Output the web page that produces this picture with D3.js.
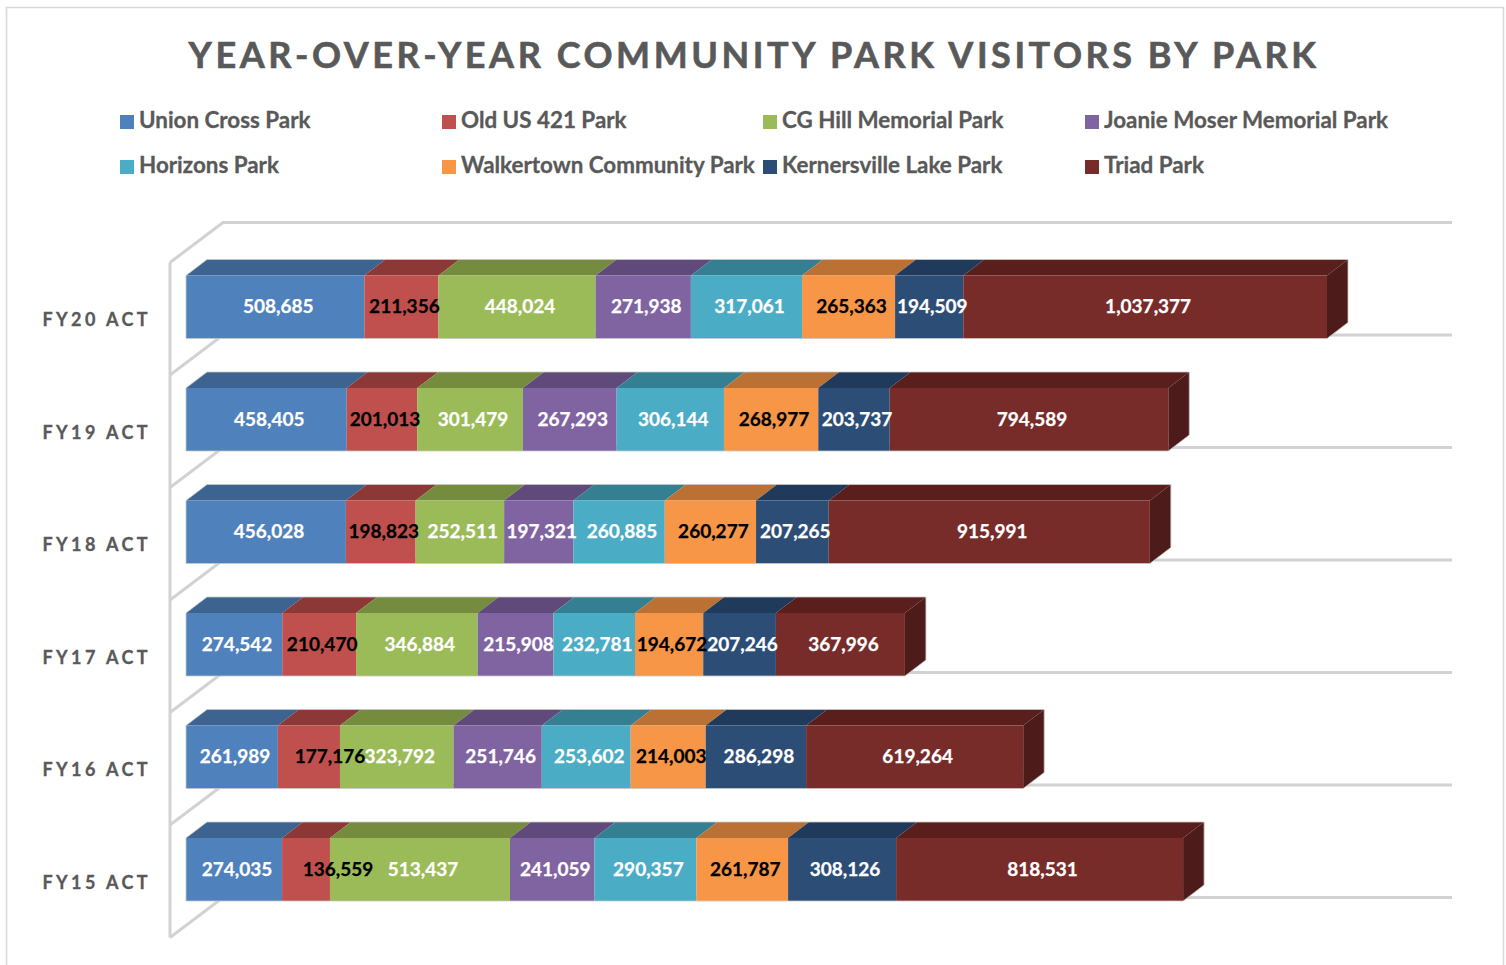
<!DOCTYPE html>
<html><head><meta charset="utf-8">
<script src="https://cdn.jsdelivr.net/npm/d3@7"></script>
<style>html,body{margin:0;padding:0;background:#fff}svg{display:block}text{font-family:Lato,"Open Sans",sans-serif;font-weight:700}</style>
</head><body><svg id="c" width="1506" height="965"></svg>
<script>
const title = "YEAR-OVER-YEAR COMMUNITY PARK VISITORS BY PARK";
const years = ["FY20 ACT","FY19 ACT","FY18 ACT","FY17 ACT","FY16 ACT","FY15 ACT"];
const parks = ["Union Cross Park","Old US 421 Park","CG Hill Memorial Park","Joanie Moser Memorial Park","Horizons Park","Walkertown Community Park","Kernersville Lake Park","Triad Park"];
const unionCross  = [508685,458405,456028,274542,261989,274035];
const oldUS421    = [211356,201013,198823,210470,177176,136559];
const cgHill      = [448024,301479,252511,346884,323792,513437];
const joanieMoser = [271938,267293,197321,215908,251746,241059];
const horizons    = [317061,306144,260885,232781,253602,290357];
const walkertown  = [265363,268977,260277,194672,214003,261787];
const kernersville= [194509,203737,207265,207246,286298,308126];
const triad       = [1037377,794589,915991,367996,619264,818531];
const seriesValues = [unionCross,oldUS421,cgHill,joanieMoser,horizons,walkertown,kernersville,triad];
const frontColors = ["#4f81bd","#c0504d","#9bbb59","#8064a2","#4bacc6","#f79646","#2c4d75","#772c2a"];
const topColors   = ["#3d6390","#8c3836","#758c3f","#5f4a7b","#357f92","#bb7133","#203a5b","#5a1f1d"];
const labelColors = ["#fff","#000","#fff","#fff","#fff","#000","#fff","#fff"];

const svg = d3.select("#c");
const dx = 21, dy = 16, wallDx = 53, wallDy = 40;
const x = d3.scaleLinear().domain([0,3254313]).range([186,1327]);
const y = d3.scaleBand().domain(years).range([250.75,925.75]).paddingInner(.44).paddingOuter(.22);
const gridColor = "#d2d2d2";

// frame
svg.append("path").attr("d","M6.5,965V7.5H1503.5V965").attr("fill","none").attr("stroke","#d9d9d9").attr("stroke-width",1.6);

// title
svg.append("text").attr("x",754).attr("y",68).attr("text-anchor","middle")
  .attr("font-size",36).attr("letter-spacing",3.55).attr("fill","#595959")
  .attr("stroke","#595959").attr("stroke-width",.6).text(title);

// legend
const legendX = d3.scaleOrdinal().domain([0,1,2,3]).range([120,442,763,1085]);
const legend = svg.append("g").selectAll("g").data(parks).join("g")
  .attr("transform",(d,i)=>`translate(${legendX(i%4)},${i<4?115:160})`);
legend.append("rect").attr("width",14).attr("height",14).attr("fill",(d,i)=>frontColors[i]);
legend.append("text").attr("x",19).attr("y",13).attr("font-size",22.4).attr("fill","#595959")
  .attr("stroke","#595959").attr("stroke-width",.3).text(d=>d);

// walls and floors
const grid = svg.append("g").attr("fill","none").attr("stroke",gridColor).attr("stroke-width",3);
const floors = d3.range(years.length+1).map(i=>222.5+i*y.step());
grid.append("path").attr("d",`M170,${floors[0]+wallDy}V${floors[6]+wallDy}`);
floors.forEach(f=>{
  grid.append("path").attr("d",`M170,${f+wallDy}L${170+wallDx},${f}H1452`);
});

// axis labels
const axis = d3.axisLeft(y).tickSize(0).tickPadding(0);
const axisG = svg.append("g").attr("transform","translate(151,13.5)").call(axis);
axisG.select(".domain").remove();
axisG.selectAll("text").attr("font-size",18).attr("letter-spacing",3.4).attr("fill","#595959")
  .attr("stroke","#595959").attr("stroke-width",.3)
  .style("font-family","Lato,sans-serif").style("font-weight",700);

// bars
const nudge = {"FY16 ACT|1":18,"FY15 ACT|1":29};
years.forEach((yr,r)=>{
  const g = svg.append("g");
  const rows = d3.cumsum(seriesValues.map(s=>s[r]));
  const segs = seriesValues.map((s,i)=>({i,v:s[r],a:i?rows[i-1]:0,b:rows[i]}));
  const top = y(yr), h = y.bandwidth();
  g.append("g").selectAll("path").data(segs).join("path")
    .attr("d",d=>`M${x(d.a)},${top}L${x(d.a)+dx},${top-dy}H${x(d.b)+dx}L${x(d.b)},${top}Z`)
    .attr("fill",d=>topColors[d.i]);
  const end = x(rows[rows.length-1]);
  g.append("path").attr("d",`M${end},${top}L${end+dx},${top-dy}V${top+h-dy}L${end},${top+h}Z`).attr("fill","#4d1c1a");
  g.append("g").selectAll("rect").data(segs).join("rect")
    .attr("x",d=>x(d.a)).attr("y",top).attr("width",d=>x(d.b)-x(d.a)).attr("height",h)
    .attr("fill",d=>frontColors[d.i]);
  g.append("path").attr("d",`M${x(0)},${top}L${x(0)+dx},${top-dy}H${end+dx}V${top+h-dy}L${end},${top+h}H${x(0)}Z`)
    .attr("fill","none").attr("stroke","#c8c8c8").attr("stroke-width",.8);
});
// data labels last so they overlap neighbours
const labels = svg.append("g");
years.forEach((yr,r)=>{
  const rows = d3.cumsum(seriesValues.map(s=>s[r]));
  seriesValues.forEach((s,i)=>{
    const a = i?rows[i-1]:0, b = rows[i];
    labels.append("text").attr("x",(x(a)+x(b))/2+3+(nudge[yr+"|"+i]||0)).attr("y",y(yr)+y.bandwidth()/2+6.2)
      .attr("text-anchor","middle").attr("font-size",19).attr("fill",labelColors[i])
      .attr("stroke",labelColors[i]).attr("stroke-width",.25)
      .text(d3.format(",")(s[r]));
  });
});
</script></body></html>
